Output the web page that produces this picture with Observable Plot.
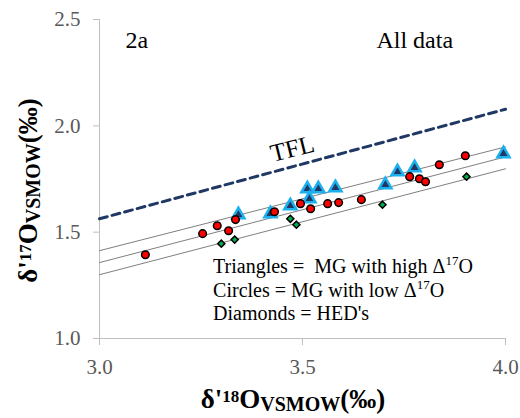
<!DOCTYPE html>
<html><head><meta charset="utf-8">
<script src="https://cdn.jsdelivr.net/npm/d3@7"></script>
<script src="https://cdn.jsdelivr.net/npm/@observablehq/plot@0.6"></script>
<style>body{margin:0;background:#fff}</style>
</head><body><div id="chart"></div>
<script>
// MG with high Δ17O (triangles)
const triX = [3.342, 3.421, 3.470, 3.512, 3.517, 3.539, 3.581, 3.704, 3.734, 3.776, 3.995];
const triY = [1.582, 1.587, 1.624, 1.704, 1.657, 1.704, 1.709, 1.723, 1.784, 1.803, 1.869];
// MG with low Δ17O (circles)
const cirX = [3.113, 3.254, 3.290, 3.318, 3.335, 3.431, 3.495, 3.520, 3.562, 3.589, 3.645, 3.764, 3.788, 3.803, 3.837, 3.901];
const cirY = [1.394, 1.493, 1.530, 1.507, 1.559, 1.596, 1.634, 1.610, 1.634, 1.639, 1.653, 1.761, 1.751, 1.737, 1.817, 1.859];
// HED's (diamonds)
const diaX = [3.300, 3.333, 3.470, 3.485, 3.697, 3.904];
const diaY = [1.446, 1.465, 1.563, 1.535, 1.629, 1.761];
// Terrestrial fractionation line
const tflX = [3.0, 4.0];
const tflY = [1.563, 2.078];
// Three grey reference lines (endpoints)
const fitNames = ["upper", "middle", "lower"];
const fitX = [3.0, 4.0];
const fitY = [[1.413, 1.901], [1.357, 1.854], [1.300, 1.798]];
const xTicks = [3.0, 3.5, 4.0];
const yTicks = [1.0, 1.5, 2.0, 2.5];
const legendLines = [
  ["Triangles =  MG with high Δ", "17", "O"],
  ["Circles = MG with low Δ", "17", "O"],
  ["Diamonds = HED's", "", ""]
];

const tri = triX.map((x, i) => ({x, y: triY[i]}));
const cir = cirX.map((x, i) => ({x, y: cirY[i]}));
const dia = diaX.map((x, i) => ({x, y: diaY[i]}));
const tfl = tflX.map((x, i) => ({x, y: tflY[i]}));
const fits = fitNames.flatMap((s, j) => fitX.map((x, i) => ({s, x, y: fitY[j][i]})));

const serif = "Liberation Serif";
const chart = Plot.plot({
  width: 520, height: 418,
  marginLeft: 99, marginRight: 15, marginTop: 19, marginBottom: 80,
  style: "font-family: 'Liberation Serif', serif; background: white; overflow: visible;",
  x: {domain: [3, 4]},
  y: {domain: [1, 2.5]},
  marks: [
    Plot.ruleX([3], {stroke: "#bfbfbf"}),
    Plot.ruleY([1], {stroke: "#bfbfbf"}),
    Plot.axisX({ticks: xTicks, tickFormat: d3.format(".1f"), tickSize: 7, tickPadding: 14, fontSize: 21, stroke: "#bfbfbf", fill: "#595959", label: null}),
    Plot.axisY({ticks: yTicks, tickFormat: d3.format(".1f"), tickSize: 6, tickPadding: 13, fontSize: 21, stroke: "#bfbfbf", fill: "#595959", label: null}),
    Plot.line(fits, {x: "x", y: "y", z: "s", stroke: "#7f7f7f", strokeWidth: 1}),
    Plot.line(tfl, {x: "x", y: "y", stroke: "#1f3864", strokeWidth: 3, strokeDasharray: "8,5"}),
    Plot.dot(tri, {x: "x", y: "y", symbol: "triangle", r: 4.5, fill: "#1f3864", stroke: "#1cb0ee", strokeWidth: 2.5}),
    Plot.dot(cir, {x: "x", y: "y", r: 3.8, fill: "#ff0000", stroke: "#000", strokeWidth: 1.5}),
    Plot.dot(dia, {x: "x", y: "y", symbol: "diamond2", r: 3.2, fill: "#00b050", stroke: "#000", strokeWidth: 1.5}),
    Plot.text([{x: 3.064, y: 2.404, t: "2a"}], {x: "x", y: "y", text: "t", textAnchor: "start", fontSize: 24, fill: "#000"}),
    Plot.text([{x: 3.682, y: 2.404, t: "All data"}], {x: "x", y: "y", text: "t", textAnchor: "start", fontSize: 24, fill: "#000"}),
    Plot.text([{x: 3.475, y: 1.892, t: "TFL"}], {x: "x", y: "y", text: "t", rotate: -14, fontSize: 25, fill: "#000"})
  ]
});
document.getElementById("chart").appendChild(chart);

const sx = chart.scale("x"), sy = chart.scale("y");
const svg = d3.select(chart);

// legend block
const lx = sx.apply(3.281);
const lys = [1.305, 1.192, 1.085];
legendLines.forEach((parts, i) => {
  const t = svg.append("text").attr("x", lx).attr("y", sy.apply(lys[i]))
    .attr("text-anchor", "start")
    .style("font-family", serif).style("font-size", "20px").attr("fill", "#000");
  t.append("tspan").text(parts[0]);
  if (parts[1]) {
    t.append("tspan").attr("dy", -8).style("font-size", "13px").text(parts[1]);
    t.append("tspan").attr("dy", 8).text(parts[2]);
  }
});

function title(sel, sup) {
  sel.style("font-family", serif).style("font-weight", "bold").style("font-size", "27px").attr("fill", "#000");
  sel.append("tspan").text("δ'");
  sel.append("tspan").attr("dy", -6).style("font-size", "17px").text(sup);
  sel.append("tspan").attr("dy", 6).text("O");
  sel.append("tspan").attr("dy", 3).style("font-size", "20px").text("VSMOW");
  sel.append("tspan").attr("dy", -3).text("(‰)");
}
// x-axis title
title(svg.append("text").attr("text-anchor", "middle")
  .attr("x", (sx.apply(3) + sx.apply(4)) / 2 - 9).attr("y", 408), "18");
// y-axis title
title(svg.append("text").attr("text-anchor", "middle")
  .attr("transform", `translate(37,${(sy.apply(1) + sy.apply(2.5)) / 2 + 12}) rotate(-90)`), "17");
</script>
</body></html>
